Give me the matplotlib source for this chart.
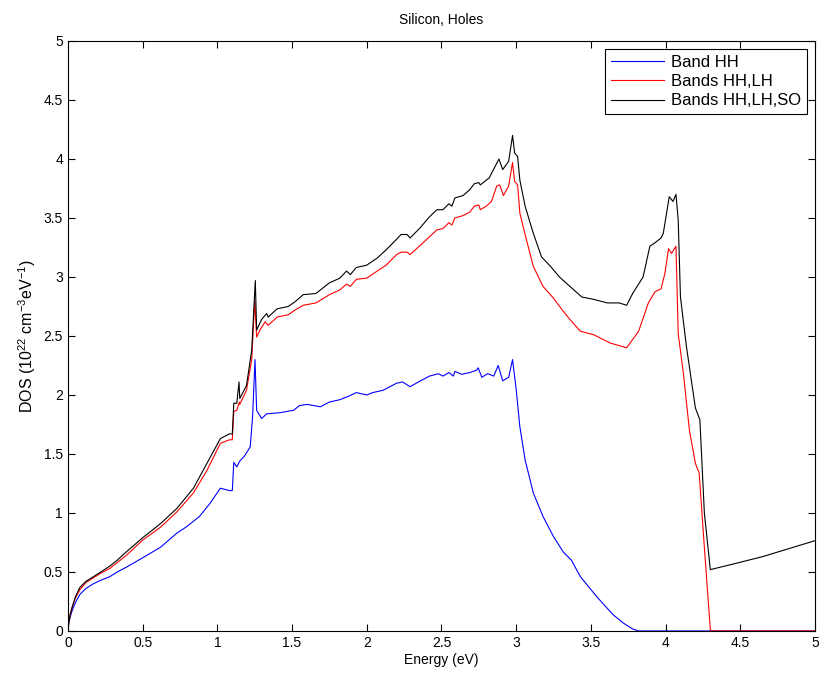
import numpy as np
import matplotlib
matplotlib.use("Agg")
import matplotlib.pyplot as plt

# Energy grid (eV) and DOS values (10^22 cm^-3 eV^-1)
e_hh = [0, 0.005, 0.015, 0.03, 0.05, 0.08, 0.12, 0.17, 0.22, 0.28, 0.33, 0.39, 0.50, 0.62, 0.73, 0.79,
        0.88, 0.95, 1.02, 1.08, 1.10, 1.11, 1.13, 1.15, 1.18, 1.22, 1.236, 1.252, 1.263, 1.296, 1.33,
        1.42, 1.51, 1.55, 1.60, 1.69, 1.75, 1.82, 1.88, 1.93, 2.00, 2.04, 2.11, 2.20, 2.24, 2.29, 2.36,
        2.42, 2.48, 2.51, 2.55, 2.58, 2.59, 2.635, 2.69, 2.735, 2.746, 2.77, 2.81, 2.85, 2.88, 2.91,
        2.95, 2.976, 3.00, 3.025, 3.06, 3.115, 3.18, 3.25, 3.315, 3.37, 3.43, 3.54, 3.65, 3.72, 3.78,
        3.82, 5.0]
dos_hh = [0, 0.06, 0.12, 0.18, 0.24, 0.31, 0.36, 0.40, 0.43, 0.46, 0.50, 0.54, 0.62, 0.71, 0.83, 0.88,
          0.97, 1.08, 1.21, 1.19, 1.19, 1.43, 1.39, 1.44, 1.48, 1.56, 1.82, 2.30, 1.87, 1.80, 1.84,
          1.85, 1.87, 1.91, 1.92, 1.90, 1.94, 1.96, 1.99, 2.02, 2.00, 2.02, 2.04, 2.10, 2.11, 2.07, 2.12,
          2.16, 2.18, 2.16, 2.19, 2.16, 2.20, 2.175, 2.19, 2.21, 2.23, 2.15, 2.18, 2.16, 2.25, 2.12,
          2.15, 2.30, 2.05, 1.73, 1.45, 1.17, 0.97, 0.80, 0.67, 0.60, 0.46, 0.29, 0.136, 0.065, 0.017,
          0, 0]

e_hhlh = [0, 0.005, 0.015, 0.03, 0.05, 0.08, 0.12, 0.17, 0.22, 0.28, 0.33, 0.39, 0.50, 0.62, 0.73, 0.84,
          0.93, 1.02, 1.08, 1.10, 1.11, 1.13, 1.147, 1.15, 1.195, 1.23, 1.25, 1.263, 1.285, 1.32, 1.34,
          1.40, 1.475, 1.52, 1.575, 1.66, 1.75, 1.82, 1.865, 1.89, 1.93, 2.00, 2.07, 2.13, 2.20, 2.23,
          2.27, 2.29, 2.36, 2.42, 2.47, 2.51, 2.55, 2.57, 2.59, 2.645, 2.69, 2.72, 2.75, 2.76, 2.80,
          2.835, 2.87, 2.89, 2.915, 2.95, 2.976, 2.99, 3.01, 3.025, 3.07, 3.115, 3.18, 3.25, 3.315,
          3.36, 3.43, 3.52, 3.63, 3.74, 3.82, 3.885, 3.93, 3.97, 3.996, 4.02, 4.04, 4.05, 4.07, 4.085,
          4.12, 4.16, 4.20, 4.225, 4.26, 4.30, 4.31, 5.0]
dos_hhlh = [0, 0.07, 0.14, 0.21, 0.28, 0.35, 0.41, 0.45, 0.49, 0.53, 0.58, 0.64, 0.77, 0.88, 1.01, 1.17,
            1.36, 1.59, 1.62, 1.62, 1.86, 1.87, 1.94, 1.92, 2.04, 2.30, 2.80, 2.49, 2.55, 2.62, 2.59,
            2.66, 2.68, 2.72, 2.76, 2.78, 2.85, 2.89, 2.94, 2.92, 2.98, 2.99, 3.05, 3.10, 3.19, 3.21,
            3.21, 3.19, 3.27, 3.34, 3.40, 3.41, 3.46, 3.44, 3.50, 3.52, 3.55, 3.60, 3.61, 3.57, 3.60,
            3.64, 3.77, 3.78, 3.69, 3.77, 3.97, 3.81, 3.78, 3.54, 3.31, 3.09, 2.92, 2.82, 2.71,
            2.64, 2.54, 2.51, 2.44, 2.40, 2.54, 2.78, 2.875, 2.90, 3.03, 3.24, 3.20, 3.22, 3.26, 2.52,
            2.18, 1.70, 1.42, 1.34, 0.71, 0.01, 0, 0]

e_all = [0, 0.005, 0.015, 0.03, 0.05, 0.08, 0.12, 0.17, 0.22, 0.28, 0.33, 0.39, 0.50, 0.62, 0.73, 0.84,
         0.93, 1.02, 1.08, 1.10, 1.11, 1.13, 1.145, 1.15, 1.195, 1.23, 1.254, 1.263, 1.296, 1.33, 1.34,
         1.40, 1.475, 1.52, 1.575, 1.66, 1.75, 1.82, 1.865, 1.89, 1.93, 2.00, 2.07, 2.13, 2.20, 2.23,
         2.27, 2.29, 2.36, 2.42, 2.47, 2.51, 2.55, 2.57, 2.59, 2.645, 2.69, 2.72, 2.75, 2.76, 2.82,
         2.885, 2.91, 2.95, 2.976, 2.99, 3.01, 3.025, 3.06, 3.115, 3.17, 3.23, 3.29, 3.36, 3.44, 3.52,
         3.61, 3.69, 3.74, 3.78, 3.85, 3.895, 3.93, 3.97, 3.985, 4.025, 4.05, 4.07, 4.085, 4.10, 4.14,
         4.20, 4.23, 4.26, 4.30, 4.43, 4.65, 5.0]
dos_all = [0, 0.07, 0.14, 0.21, 0.29, 0.37, 0.42, 0.46, 0.50, 0.55, 0.60, 0.67, 0.79, 0.91, 1.04, 1.21,
           1.42, 1.63, 1.67, 1.67, 1.93, 1.93, 2.11, 1.97, 2.08, 2.38, 2.97, 2.55, 2.64, 2.69, 2.66,
           2.73, 2.75, 2.79, 2.85, 2.86, 2.95, 2.99, 3.05, 3.02, 3.08, 3.10, 3.16, 3.23, 3.32, 3.36,
           3.36, 3.33, 3.42, 3.51, 3.57, 3.57, 3.62, 3.60, 3.67, 3.69, 3.74, 3.79, 3.80, 3.78, 3.84,
           4.00, 3.91, 3.98, 4.20, 4.05, 4.02, 3.82, 3.60, 3.37, 3.17, 3.09, 3.00, 2.92, 2.83, 2.81,
           2.78, 2.78, 2.76, 2.86, 3.00, 3.26, 3.29, 3.33, 3.37, 3.68, 3.64, 3.70, 3.48, 2.83, 2.41,
           1.89, 1.79, 1.00, 0.52, 0.56, 0.63, 0.765]

labels = ["Band HH", "Bands HH,LH", "Bands HH,LH,SO"]
colors = ["#0000ff", "#ff0000", "#000000"]
tick_text = ["0", "0.5", "1", "1.5", "2", "2.5", "3", "3.5", "4", "4.5", "5"]


def main() -> None:
    plt.rcParams["font.family"] = ["Liberation Sans", "DejaVu Sans"]
    plt.rcParams["mathtext.default"] = "regular"
    plt.rcParams["font.size"] = 10

    fig = plt.figure(figsize=(8.19, 6.77), dpi=100)
    ax = fig.add_axes([0.083, 0.068, 0.912, 0.8715])

    for e, d, lab, c in zip([e_hh, e_hhlh, e_all], [dos_hh, dos_hhlh, dos_all], labels, colors):
        ax.plot(e, d, color=c, linewidth=0.8, label=lab)

    ax.set_xlim(0, 5)
    ax.set_ylim(0, 5)
    ax.set_xticks(np.arange(0, 5.01, 0.5))
    ax.set_yticks(np.arange(0, 5.01, 0.5))
    ax.set_xticklabels(tick_text)
    ax.set_yticklabels(tick_text)
    ax.tick_params(direction="in", top=True, right=True, length=5, width=0.8, labelsize=10)
    for s in ax.spines.values():
        s.set_linewidth(0.8)

    ax.set_xlabel("Energy (eV)", labelpad=2)
    ax.set_ylabel("DOS (10$^{22}$ cm$^{-3}$eV$^{-1}$)", fontsize=11.5, labelpad=4)
    ax.set_title("Silicon, Holes", fontsize=10, pad=12)

    leg = ax.legend(loc="upper right", bbox_to_anchor=(0.989, 0.986), borderaxespad=0,
                    fancybox=False, framealpha=1, edgecolor="black", handlelength=3.2,
                    handletextpad=0.4, labelspacing=0.25, borderpad=0.35, fontsize=12)
    leg.get_frame().set_linewidth(0.8)

    fig.savefig("out.png", dpi=100)


if __name__ == "__main__":
    main()
